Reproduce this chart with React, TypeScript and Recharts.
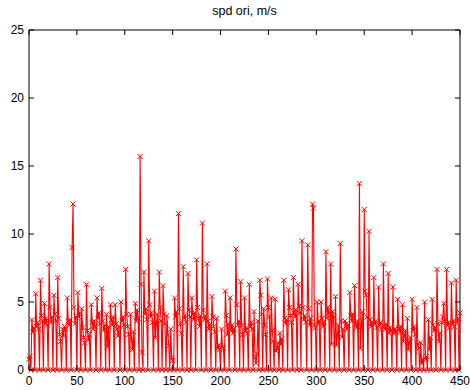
import { Line, LineChart, ReferenceArea, XAxis, YAxis } from "recharts";

// samples 0..149
const speedPart1 = [
  0.8, 1.0, 0,
  3.7, 2.8, 3.1, 0,
  5.6, 3.2, 3.5, 3.0, 0,
  6.6, 4.0, 3.6, 0,
  4.9, 3.4, 3.8, 3.3, 0,
  7.8, 4.6, 3.5, 3.9, 0,
  5.5, 4.1, 3.6, 0,
  6.8, 3.8, 2.6, 2.1, 0,
  3.0, 2.5, 3.2, 3.0, 0,
  5.3, 3.6, 3.3, 3.7, 0,
  9.0, 12.2, 4.6, 3.4, 3.9, 0,
  5.7, 3.9, 4.2, 0,
  4.5, 3.1, 2.4, 2.0, 0,
  6.3, 2.9, 2.2, 2.6, 0,
  4.8, 3.5, 3.0, 3.6, 3.2, 0,
  5.3, 3.8, 4.2, 3.4, 0,
  6.0, 3.6, 2.9, 3.3, 0,
  4.1, 1.7, 3.2, 0,
  4.8, 3.7, 3.3, 3.9, 0,
  4.8, 3.4, 3.0, 2.5, 3.2, 0,
  5.0, 3.6, 3.9, 3.3, 0,
  7.4, 4.1, 3.2, 2.6, 0,
  4.1, 2.2, 1.5, 2.8, 0,
  4.9, 3.6, 4.4, 3.8, 0,
  15.7, 6.3, 1.3, 0,
  7.2, 4.1, 4.5, 3.7, 0,
  9.5, 4.8, 3.9, 4.2, 3.5, 0,
  5.8, 2.4, 3.4, 4.1, 0,
  7.2, 4.6, 3.6, 0,
  6.2, 4.1, 3.4, 0,
  4.0, 2.6, 1.8, 0,
  3.0, 0.9,
];

// samples 150..299
const speedPart2 = [
  0.7, 0,
  5.3, 3.9, 4.3, 0,
  11.5, 4.5, 3.4, 2.7, 0,
  7.6, 3.8, 4.0, 3.5, 0,
  7.1, 4.4, 3.9, 0,
  5.3, 4.1, 3.7, 4.2, 0,
  8.1, 4.6, 3.8, 3.2, 4.0, 0,
  10.8, 4.4, 3.7, 4.0, 0,
  7.8, 3.6, 3.0, 3.3, 0,
  5.4, 3.9, 3.2, 2.8, 0,
  3.8, 1.6, 1.8, 1.5, 0,
  3.0, 1.7, 1.6, 0,
  5.8, 4.0, 2.6, 3.4, 0,
  5.3, 2.9, 3.3, 2.7, 3.0, 0,
  8.9, 4.8, 3.3, 3.6, 0,
  6.5, 3.3, 2.6, 0,
  5.3, 2.9, 3.1, 2.7, 0,
  6.3, 3.2, 3.5, 3.0, 0,
  4.3, 0.9, 0.5, 1.2, 3.6, 0,
  6.6, 5.5, 4.1, 0,
  4.5, 3.3, 2.6, 0,
  6.7, 4.6, 3.9, 0,
  5.3, 2.9, 2.1, 0,
  5.2, 1.4, 1.6, 2.0, 0,
  2.7, 1.9, 2.3, 0,
  6.6, 3.8, 3.4, 3.7, 0,
  5.9, 4.6, 4.0, 3.5, 0,
  6.8, 4.2, 3.9, 4.4, 0,
  6.3, 4.7, 4.2, 0,
  9.5, 4.6, 3.7, 4.0, 3.5, 0,
  9.2, 4.5, 3.3, 3.8, 0,
  12.2, 11.9, 3.3, 3.1,
];

// samples 300..450
const speedPart3 = [
  0,
  5.0, 3.4, 3.6, 0,
  5.0, 3.8, 3.2, 3.5, 0,
  8.7, 3.8, 4.6, 4.2, 0,
  7.8, 1.9, 4.3, 3.9, 0,
  5.4, 1.8, 2.6, 3.3, 0,
  9.3, 3.6, 2.4, 3.0, 0,
  3.6, 3.4, 3.0, 3.3, 0,
  5.7, 4.0, 3.6, 4.1, 0,
  6.2, 3.4, 3.1, 3.6, 0,
  13.7, 1.6, 3.2, 4.3, 0,
  11.8, 5.8, 5.5, 3.9, 0,
  10.2, 3.7, 3.2, 3.5, 0,
  6.8, 3.4, 3.6, 3.1, 0,
  6.1, 3.3, 3.5, 3.0, 0,
  7.8, 3.2, 3.0, 3.4, 0,
  7.1, 2.7, 3.1, 2.9, 0,
  6.1, 2.7, 3.0, 2.8, 0,
  5.2, 3.1, 2.8, 3.2, 0,
  4.8, 2.1, 2.5, 2.9, 0,
  3.8, 1.5, 2.0, 2.4, 0,
  5.2, 2.9, 3.2, 2.6, 0,
  4.6, 1.9, 1.6, 0,
  2.0, 0.5, 0.8, 0,
  5.0, 0.8, 1.0, 0,
  3.7, 1.5, 2.4, 0,
  5.2, 3.3, 2.9, 3.1, 0,
  7.4, 3.4, 2.1, 2.7, 0,
  3.5, 3.9, 4.9, 3.6, 0,
  7.4, 3.3, 3.5, 3.1, 0,
  6.4, 3.4, 3.6, 3.2, 0,
  6.6, 3.5, 3.8, 0,
  4.2,
];

const speed = [...speedPart1, ...speedPart2, ...speedPart3];
const xTicks = [0, 50, 100, 150, 200, 250, 300, 350, 400, 450];
const yTicks = [0, 5, 10, 15, 20, 25];
const title = "spd ori, m/s";

const data = speed.map((v, i) => ({ t: i, v }));

// plot box in page pixels
const BOX = { left: 29, right: 460, top: 30, bottom: 370 };
const RED = "#ff0000";

function XTick({ x, payload }: any) {
  return (
    <g>
      <line x1={x} x2={x} y1={BOX.bottom} y2={BOX.bottom - 5} stroke="#000" />
      <line x1={x} x2={x} y1={BOX.top} y2={BOX.top + 5} stroke="#000" />
      <text x={x} y={BOX.bottom + 15} textAnchor="middle" fontSize={12} fill="#000">
        {payload.value}
      </text>
    </g>
  );
}

function YTick({ y, payload }: any) {
  return (
    <g>
      <line x1={BOX.left} x2={BOX.left + 5} y1={y} y2={y} stroke="#000" />
      <line x1={BOX.right} x2={BOX.right - 5} y1={y} y2={y} stroke="#000" />
      <text x={24} y={y + 4} textAnchor="end" fontSize={12} fill="#000">
        {payload.value}
      </text>
    </g>
  );
}

function XMark({ cx, cy, index }: any) {
  if (cx == null || cy == null) return <g key={index} />;
  const s = 2.5;
  return (
    <path
      key={index}
      d={`M${cx - s},${cy - s}L${cx + s},${cy + s}M${cx - s},${cy + s}L${cx + s},${cy - s}`}
      stroke={RED}
      strokeWidth={1}
      fill="none"
    />
  );
}

export default function App() {
  return (
    <div
      style={{
        position: "absolute",
        left: 0,
        top: 0,
        width: 470,
        height: 390,
        background: "#fff",
        fontFamily: "'Liberation Sans', Arial, sans-serif",
      }}
    >
      <div
        style={{
          position: "absolute",
          top: 4,
          left: BOX.left,
          width: BOX.right - BOX.left,
          textAlign: "center",
          fontSize: 12.5,
          color: "#000",
        }}
      >
        {title}
      </div>
      <LineChart
        width={470}
        height={390}
        data={data}
        margin={{ top: 30, right: 10, left: 4, bottom: 0 }}
      >
        <ReferenceArea
          x1={0}
          x2={450}
          y1={0}
          y2={25}
          fill="none"
          stroke="#000"
          strokeWidth={1}
        />
        <XAxis
          dataKey="t"
          type="number"
          domain={[0, 450]}
          ticks={xTicks}
          height={20}
          axisLine={false}
          tickLine={false}
          tick={(p: any) => <XTick {...p} />}
          interval={0}
        />
        <YAxis
          type="number"
          domain={[0, 25]}
          ticks={yTicks}
          width={25}
          axisLine={false}
          tickLine={false}
          tick={(p: any) => <YTick {...p} />}
          interval={0}
        />
        <Line
          dataKey="v"
          type="linear"
          stroke={RED}
          strokeWidth={1.1}
          dot={(p: any) => <XMark {...p} key={p.index} />}
          activeDot={false}
          isAnimationActive={false}
        />
      </LineChart>
    </div>
  );
}
